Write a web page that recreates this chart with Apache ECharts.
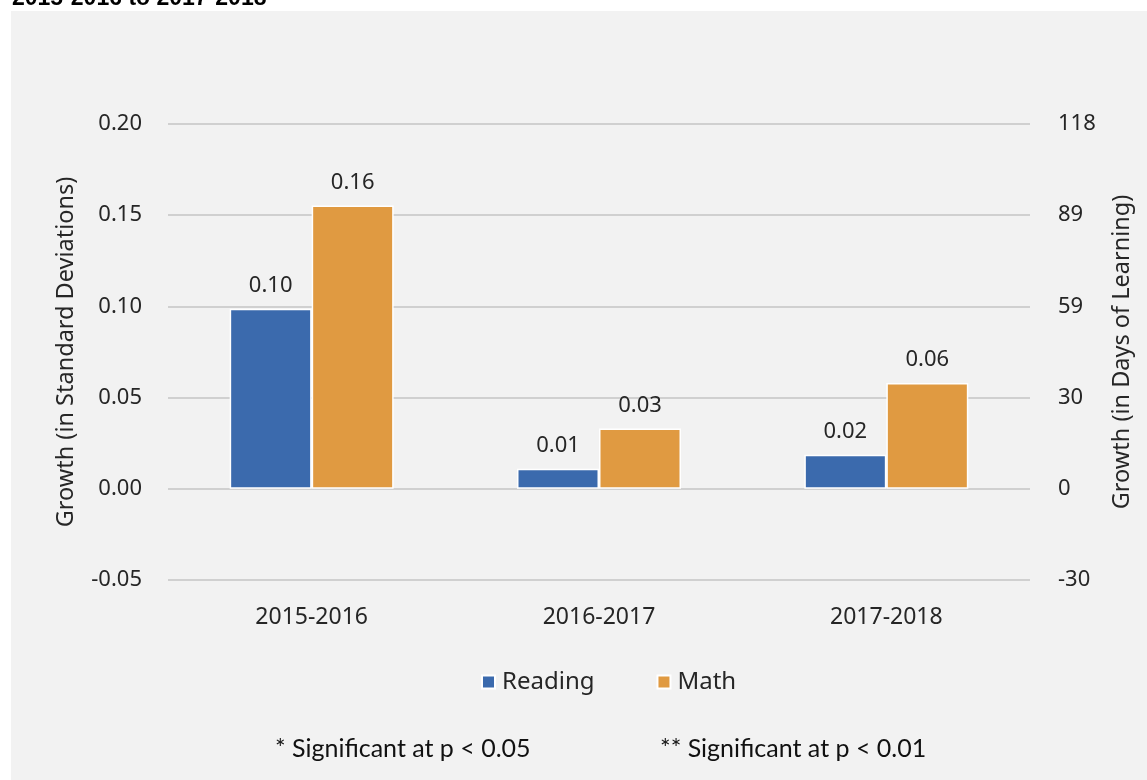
<!DOCTYPE html>
<html>
<head>
<meta charset="utf-8">
<script src="https://cdn.jsdelivr.net/npm/echarts@6/dist/echarts.min.js"></script>
<style>
  html, body { margin: 0; padding: 0; background: #ffffff; }
  #chart { width: 1147px; height: 780px; }
</style>
</head>
<body>
<div id="chart"></div>
<script>
// School years compared
const years = ['2015-2016', '2016-2017', '2017-2018'];

// Growth in standard deviations
const reading = [0.0987, 0.011, 0.0186];
const math = [0.1553, 0.033, 0.058];

// Left axis: standard deviations; right axis: equivalent days of learning
const sdMin = -0.05, sdMax = 0.20, sdStep = 0.05;
const dayTicks = ['-30', '0', '30', '59', '89', '118'];
const dayStep = 29.5;

const FONT = '"Noto Sans", sans-serif';
const TEXT = '#262626';

const chart = echarts.init(document.getElementById('chart'));

chart.setOption({
  animation: false,
  backgroundColor: '#ffffff',
  graphic: [
    {
      type: 'rect', z: -10, silent: true,
      shape: { x: 11, y: 11, width: 1147, height: 780 },
      style: { fill: '#f2f2f2' }
    },
    {
      type: 'text', left: 12, top: -13,
      style: { text: '2015-2016 to 2017-2018', font: 'bold 23px "Liberation Sans", sans-serif', fill: '#000' }
    },
    {
      type: 'text', left: 275, top: 736,
      style: { text: '* Significant at p < 0.05', font: '25px Lato, sans-serif', fill: '#111' }
    },
    {
      type: 'text', left: 660, top: 736,
      style: { text: '** Significant at p < 0.01', font: '25px Lato, sans-serif', fill: '#111' }
    }
  ],
  grid: { left: 168, right: 117, top: 124, bottom: 200 },
  legend: {
    data: ['Reading', 'Math'],
    bottom: 81,
    left: 476,
    itemWidth: 13, itemHeight: 13, itemGap: 62,
    icon: 'rect',
    textStyle: { fontFamily: FONT, fontSize: 24, color: TEXT, padding: [0, 0, 0, 2] }
  },
  xAxis: {
    type: 'category',
    data: years,
    axisLine: { show: false },
    axisTick: { show: false },
    axisLabel: { fontFamily: FONT, fontSize: 23, color: TEXT, margin: 26 }
  },
  yAxis: [
    {
      type: 'value',
      min: sdMin, max: sdMax, interval: sdStep,
      name: 'Growth (in Standard Deviations)',
      nameLocation: 'middle', nameGap: 90,
      nameTextStyle: { fontFamily: FONT, fontSize: 23.5, color: TEXT },
      axisLine: { show: false }, axisTick: { show: false },
      axisLabel: { fontFamily: FONT, fontSize: 22, color: TEXT, margin: 26, formatter: v => v.toFixed(2) },
      splitLine: { lineStyle: { color: '#d0d0d0', width: 2 } }
    },
    {
      type: 'value',
      position: 'right',
      min: -dayStep, max: dayStep * 4, interval: dayStep,
      name: 'Growth (in Days of Learning)',
      nameLocation: 'middle', nameGap: 80, nameRotate: 90,
      nameTextStyle: { fontFamily: FONT, fontSize: 23.5, color: TEXT },
      axisLine: { show: false }, axisTick: { show: false },
      axisLabel: {
        fontFamily: FONT, fontSize: 22, color: TEXT, margin: 28,
        formatter: v => dayTicks[Math.round((v + dayStep) / dayStep)]
      },
      splitLine: { show: false }
    }
  ],
  series: [
    {
      name: 'Reading', type: 'bar', data: reading,
      barWidth: 82, barGap: '0%',
      itemStyle: { color: '#3b6aad', borderColor: '#ffffff', borderWidth: 1.5 },
      label: {
        show: true, position: 'top', distance: 12,
        fontFamily: FONT, fontSize: 22, color: TEXT,
        formatter: p => p.value.toFixed(2)
      }
    },
    {
      name: 'Math', type: 'bar', data: math,
      barWidth: 82,
      itemStyle: { color: '#e09a41', borderColor: '#ffffff', borderWidth: 1.5 },
      label: {
        show: true, position: 'top', distance: 12,
        fontFamily: FONT, fontSize: 22, color: TEXT,
        formatter: p => p.value.toFixed(2)
      }
    }
  ]
});
</script>
</body>
</html>
